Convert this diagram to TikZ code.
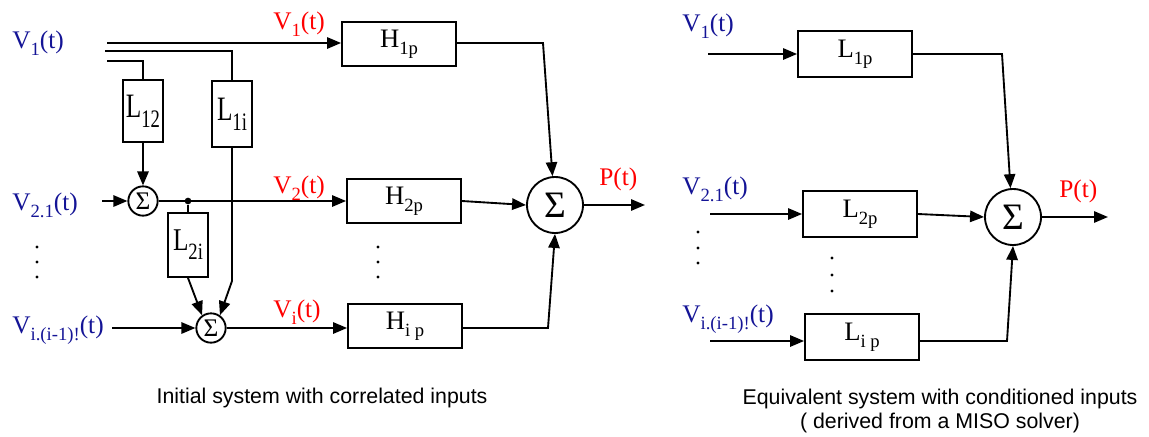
\documentclass[tikz,border=0pt]{standalone}
\usepackage{fontspec}
\setmainfont{Liberation Serif}
\newfontfamily\capfont{Liberation Sans}
\usepackage{xcolor}
\usepackage{graphicx}
\usetikzlibrary{arrows.meta,positioning}
\definecolor{vblue}{RGB}{20,20,150}
\newcommand{\lsub}[1]{\raisebox{-5.5pt}{\fontsize{14}{14}\selectfont #1}}

\begin{document}
\begin{tikzpicture}[
    x=0.75pt, y=-0.75pt,
    block/.style={draw, line width=1.4pt, minimum width=85.5pt, minimum height=33pt, inner sep=0pt, font=\fontsize{20}{22}\selectfont},
    lblock/.style={draw, line width=1.4pt, minimum width=29.5pt, minimum height=46pt, inner sep=0pt, font=\fontsize{19}{21}\selectfont},
    smallsum/.style={draw, circle, line width=1.4pt, minimum size=22pt, inner sep=0pt, font=\fontsize{19}{19}\selectfont},
    bigsum/.style={draw, circle, line width=1.4pt, minimum size=42pt, inner sep=0pt, font=\fontsize{28}{28}\selectfont},
    arrow/.style={-{Triangle[length=10.5pt,width=8.5pt]}, line width=1.4pt},
    wire/.style={line width=1.4pt},
    invar/.style={anchor=base west, inner sep=0pt, text=vblue, font=\fontsize{19}{21}\selectfont},
    outvar/.style={anchor=base west, inner sep=0pt, text=red, font=\fontsize{19}{21}\selectfont},
    vdots/.style={circle, fill, inner sep=0pt, minimum size=2.4pt},
    caption/.style={font=\capfont\fontsize{16}{18}\selectfont, align=center}
]
\useasboundingbox (0,0) rectangle (1149,436);

% initial system
\node[block] (h1) at (399,44) {H\lsub{1p}};
\node[block] (h2) at (404,201) {H\lsub{2p}};
\node[block] (hi) at (405,326) {H\lsub{i p}};
\node[lblock] (l12) at (143,111) {\scalebox{1}[1.35]{L\lsub{12}}};
\node[lblock, minimum height=49.5pt] (l1i) at (232,114) {\scalebox{1}[1.35]{L\lsub{1i}}};
\node[lblock, minimum height=48pt] (l2i) at (188,245) {\scalebox{1}[1.25]{L\lsub{2i}}};
\node[smallsum] (s1) at (143,201) {Σ};
\node[smallsum] (s2) at (211,328) {Σ};
\node[bigsum] (sum) at (555,205) {Σ};
\node[circle, fill, inner sep=0pt, minimum size=5pt] (tap) at (188,201) {};

\node[invar] (v1) at (12,48) {V\lsub{1}(t)};
\node[invar] (v21) at (12,210) {V\lsub{2.1}(t)};
\node[invar] (vi) at (12,333) {V\lsub{i.(i-1)!}(t)};
\node[outvar] (v1o) at (273,29) {V\lsub{1}(t)};
\node[outvar] (v2o) at (273,193) {V\lsub{2}(t)};
\node[outvar] (vio) at (273,317) {V\lsub{i}(t)};
\node[outvar] (pl) at (599,185) {P(t)};

\coordinate (a1) at (107,43);
\coordinate (a2) at (105,51);
\coordinate (a3) at (107,61);
\coordinate (b2) at (102,201);
\coordinate (c3) at (112,328);
\coordinate (bend) at (232,281);
\coordinate (k1) at (543,43);
\coordinate (k3) at (548,328);
\coordinate (pout) at (645,205);

\draw[arrow] (a1) -- (a1 -| h1.west);
\draw[wire] (a2) -| (l1i.north);
\draw[wire] (a3) -| (l12.north);
\draw[arrow] (l12.south) -- (s1.north);
\draw[arrow] (b2) -- (s1.west);
\draw[arrow] (s1.east) -- (s1 -| h2.west);
\draw[wire] (tap) -- (l2i.north);
\draw[arrow] (l2i.south) -- (s2.125);
\draw[arrow] (l1i.south) -- (bend) -- (s2.55);
\draw[arrow] (c3) -- (s2.west);
\draw[arrow] (s2.east) -- (s2 -| hi.west);
\draw[arrow] (h1.east |- k1) -- (k1) -- (sum.95);
\draw[arrow] (h2.east) -- (sum.west);
\draw[arrow] (hi.east |- k3) -- (k3) -- (sum.south);
\draw[arrow] (sum.east) -- (pout);

\foreach \y in {247,262,277} {
  \node[vdots] (ldot\y) at (37,\y) {};
  \node[vdots] (hdot\y) at (378,\y) {};
}

% equivalent system
\node[block, minimum height=34.5pt] (l1p) at (855,54) {L\lsub{1p}};
\node[block, minimum height=34.5pt] (l2p) at (860,214) {L\lsub{2p}};
\node[block, minimum height=34.5pt] (lip) at (862,337) {L\lsub{i p}};
\node[bigsum] (rsum) at (1013,217) {Σ};

\node[invar] (rv1) at (682,31) {V\lsub{1}(t)};
\node[invar] (rv21) at (682,194) {V\lsub{2.1}(t)};
\node[invar] (rvi) at (682,322) {V\lsub{i.(i-1)!}(t)};
\node[outvar] (pr) at (1059,197) {P(t)};

\coordinate (r1) at (708,54);
\coordinate (r2) at (710,214);
\coordinate (r3) at (710,341);
\coordinate (m1) at (1002,54);
\coordinate (m3) at (1007,341);
\coordinate (rout) at (1108,217);

\draw[arrow] (r1) -- (l1p.west);
\draw[arrow] (r2) -- (l2p.west);
\draw[arrow] (r3) -- (r3 -| lip.west);
\draw[arrow] (l1p.east) -- (m1) -- (rsum.95);
\draw[arrow] (l2p.east) -- (rsum.west);
\draw[arrow] (lip.east |- m3) -- (m3) -- (rsum.south);
\draw[arrow] (rsum.east) -- (rout);

\foreach \y in {232,248,263} \node[vdots] (rdot\y) at (698,\y) {};
\foreach \y in {258,275,291} \node[vdots] (mdot\y) at (832,\y) {};

\node[caption] (capl) at (322,398) {Initial system with correlated inputs};
\node[caption] (capr) at (940,411) {Equivalent system with conditioned inputs\\( derived from a MISO solver)};
\end{tikzpicture}
\end{document}
